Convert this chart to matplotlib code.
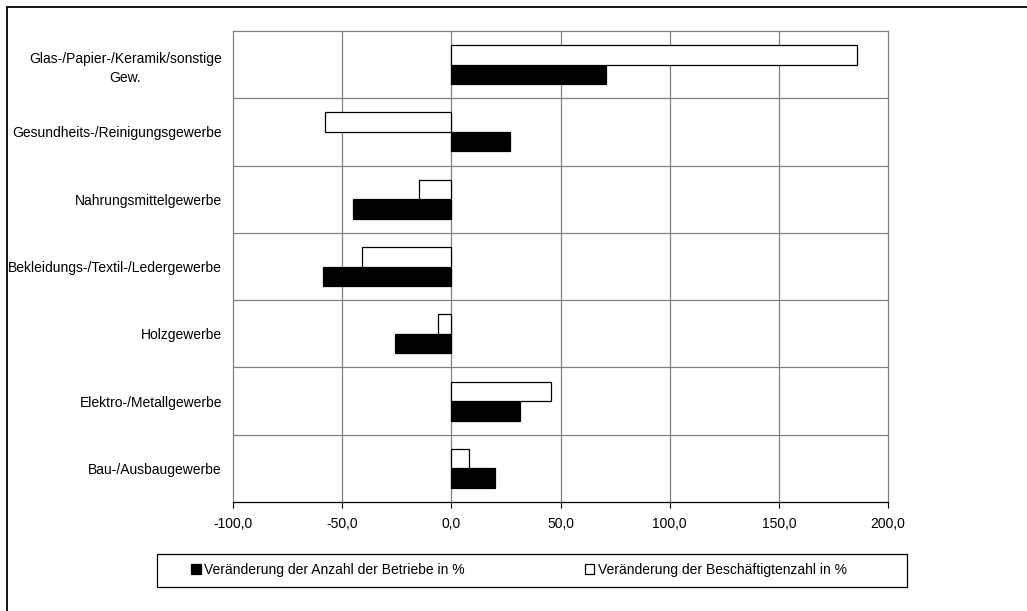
import numpy as np
from matplotlib import pyplot as plt
from matplotlib.patches import Rectangle

plt.rcParams['font.family'] = ['Liberation Sans', 'DejaVu Sans']
plt.rcParams['font.size'] = 10

# Branchen von unten nach oben
branchen = ["Bau-/Ausbaugewerbe",
            "Elektro-/Metallgewerbe",
            "Holzgewerbe",
            "Bekleidungs-/Textil-/Ledergewerbe",
            "Nahrungsmittelgewerbe",
            "Gesundheits-/Reinigungsgewerbe",
            "Glas-/Papier-/Keramik/sonstige\nGew."]
betriebe = [20.0, 31.5, -25.7, -58.8, -45.0, 27.0, 70.8]
beschaeftigte = [8.2, 45.7, -6.0, -41.0, -15.0, -58.0, 185.8]

x_ticks = [-100, -50, 0, 50, 100, 150, 200]
x_labels = ["-100,0", "-50,0", "0,0", "50,0", "100,0", "150,0", "200,0"]

fig = plt.figure(figsize=(10.27, 6.11), dpi=100)
ax = fig.add_axes([233/1027, 1-502/611, 655/1027, 471/611])

y = np.arange(len(branchen))
h = 0.29
b1 = ax.barh(y - h/2, betriebe, height=h, color="black", edgecolor="black", linewidth=0.9, zorder=3)
b2 = ax.barh(y + h/2, beschaeftigte, height=h, color="white", edgecolor="black", linewidth=0.9, zorder=3)

ax.set_xlim(-100, 200)
ax.set_ylim(-0.5, len(branchen) - 0.5)
ax.set_xticks(x_ticks)
ax.set_xticklabels(x_labels)
ax.set_yticks(y)
ax.set_yticklabels(branchen, multialignment="center", linespacing=1.45)
ax.tick_params(axis="y", length=0, pad=8)
ax.tick_params(axis="x", length=4, width=0.8, pad=7, direction="out")

# Gitternetz
for xv in x_ticks[1:-1]:
    ax.axvline(xv, color="#808080", lw=0.9, zorder=1)
for yv in np.arange(0.5, len(branchen) - 0.5):
    ax.axhline(yv, color="#808080", lw=0.9, zorder=1)
for s in ["left", "right", "top"]:
    ax.spines[s].set_color("#808080")
    ax.spines[s].set_linewidth(0.9)
ax.spines["bottom"].set_color("black")
ax.spines["bottom"].set_linewidth(0.9)

# Legende mit eigenem Rahmen
fig.add_artist(Rectangle((157/1027, 1-587/611), 750/1027, 33/611, transform=fig.transFigure,
                         fill=False, edgecolor="black", lw=0.9))
fig.legend([b1, b2], ["Veränderung der Anzahl der Betriebe in %", "Veränderung der Beschäftigtenzahl in %"],
           loc="center", bbox_to_anchor=(519/1027, 1-570/611), ncol=2, frameon=False,
           handlelength=0.7, handleheight=0.7, handletextpad=0.25, columnspacing=8.6)

# Rahmen um die Grafik
fig.add_artist(Rectangle((7/1027, -0.1), 1.2, 1.1 - 7/611, transform=fig.transFigure,
                         fill=False, edgecolor="black", lw=1.3))

fig.savefig("out.png", dpi=100)
